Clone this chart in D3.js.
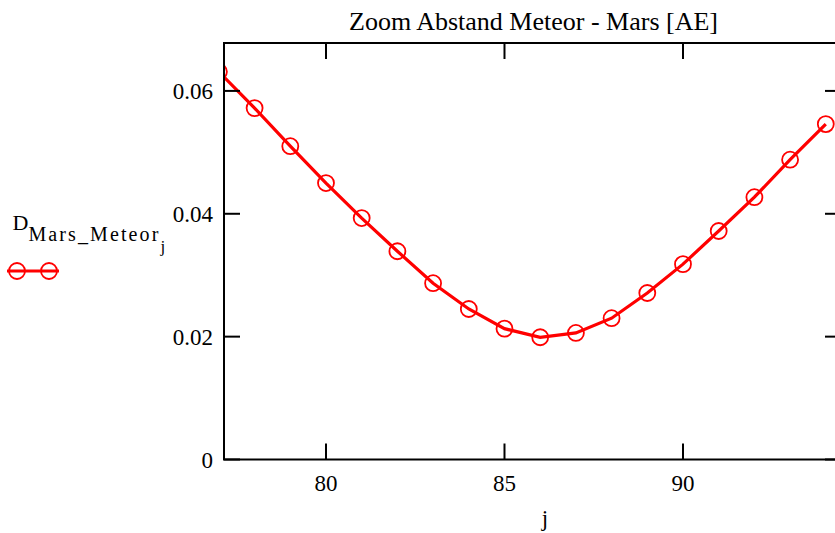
<!DOCTYPE html>
<html><head><meta charset="utf-8">
<script src="https://cdn.jsdelivr.net/npm/d3@7"></script>
<style>body{margin:0;background:#fff}</style>
</head><body>
<svg id="c" width="835" height="533"></svg>
<script>
const jValues = [77,78,79,80,81,82,83,84,85,86,87,88,89,90,91,92,93,94];
const dValues = [0.0631,0.0572,0.0510,0.0450,0.0393,0.0339,0.0287,0.0245,0.0213,0.0199,0.0206,0.0230,0.0271,0.0318,0.0372,0.0427,0.0488,0.0546];
const xTicks = [80,85,90];
const yTicks = [0,0.02,0.04,0.06];
const yTickLabels = ["0","0.02","0.04","0.06"];
const title = "Zoom Abstand Meteor - Mars [AE]";
const xLabel = "j";

const svg = d3.select("#c");
const L=224,T=43,R=841,B=459.5;
const x = d3.scaleLinear().domain([77.143,94.426]).range([L,R]);
const y = d3.scaleLinear().domain([0,0.0678]).range([B,T]);

function label(px, py, size, anchor, txt){
  return svg.append("text").attr("x",px).attr("y",py).attr("text-anchor",anchor)
    .attr("font-family","Times New Roman").attr("font-size",size).text(txt);
}

svg.append("defs").append("clipPath").attr("id","clip")
  .append("rect").attr("x",L).attr("y",T).attr("width",R-L).attr("height",B-T);

const g = svg.append("g").attr("clip-path","url(#clip)");
g.append("path").datum(jValues.map((j,i)=>[j,dValues[i]]))
  .attr("d",d3.line().x(d=>x(d[0])).y(d=>y(d[1])))
  .attr("fill","none").attr("stroke","#ff0000").attr("stroke-width",3.2);
g.selectAll("circle").data(jValues).join("circle")
  .attr("cx",(d)=>x(d)).attr("cy",(d,i)=>y(dValues[i])).attr("r",8)
  .attr("fill","none").attr("stroke","#ff0000").attr("stroke-width",1.8);

svg.append("rect").attr("x",L).attr("y",T).attr("width",R-L).attr("height",B-T)
  .attr("fill","none").attr("stroke","#000").attr("stroke-width",2);

const tl=16;
const ax = svg.append("g").attr("stroke","#000").attr("stroke-width",2);
xTicks.forEach(t=>{
  ax.append("line").attr("x1",x(t)).attr("x2",x(t)).attr("y1",B).attr("y2",B-tl);
  ax.append("line").attr("x1",x(t)).attr("x2",x(t)).attr("y1",T).attr("y2",T+tl);
});
yTicks.forEach(t=>{
  ax.append("line").attr("x1",L).attr("x2",L+tl).attr("y1",y(t)).attr("y2",y(t));
  ax.append("line").attr("x1",R).attr("x2",R-tl).attr("y1",y(t)).attr("y2",y(t));
});

const fs=23;
xTicks.forEach(t=>label(x(t), B+31, fs, "middle", String(t)));
yTicks.forEach((t,i)=>label(L-11, y(t)+8, fs, "end", yTickLabels[i]));

label(533.5, 30, 26, "middle", title);
label(545, 526, fs, "middle", xLabel);

const lt = label(12.5, 230, 22, "start", null);
lt.append("tspan").text("D");
lt.append("tspan").attr("dy",11).attr("font-size",20).attr("textLength",130).attr("lengthAdjust","spacing").text("Mars_Meteor");
lt.append("tspan").attr("dy",11).attr("font-size",17).text("j");

const lg = svg.append("g");
lg.append("line").attr("x1",7).attr("x2",59).attr("y1",271).attr("y2",271)
  .attr("stroke","#ff0000").attr("stroke-width",3.2);
[17,49].forEach(cx=>lg.append("circle").attr("cx",cx).attr("cy",271).attr("r",8)
  .attr("fill","none").attr("stroke","#ff0000").attr("stroke-width",1.8));
</script>
</body></html>
